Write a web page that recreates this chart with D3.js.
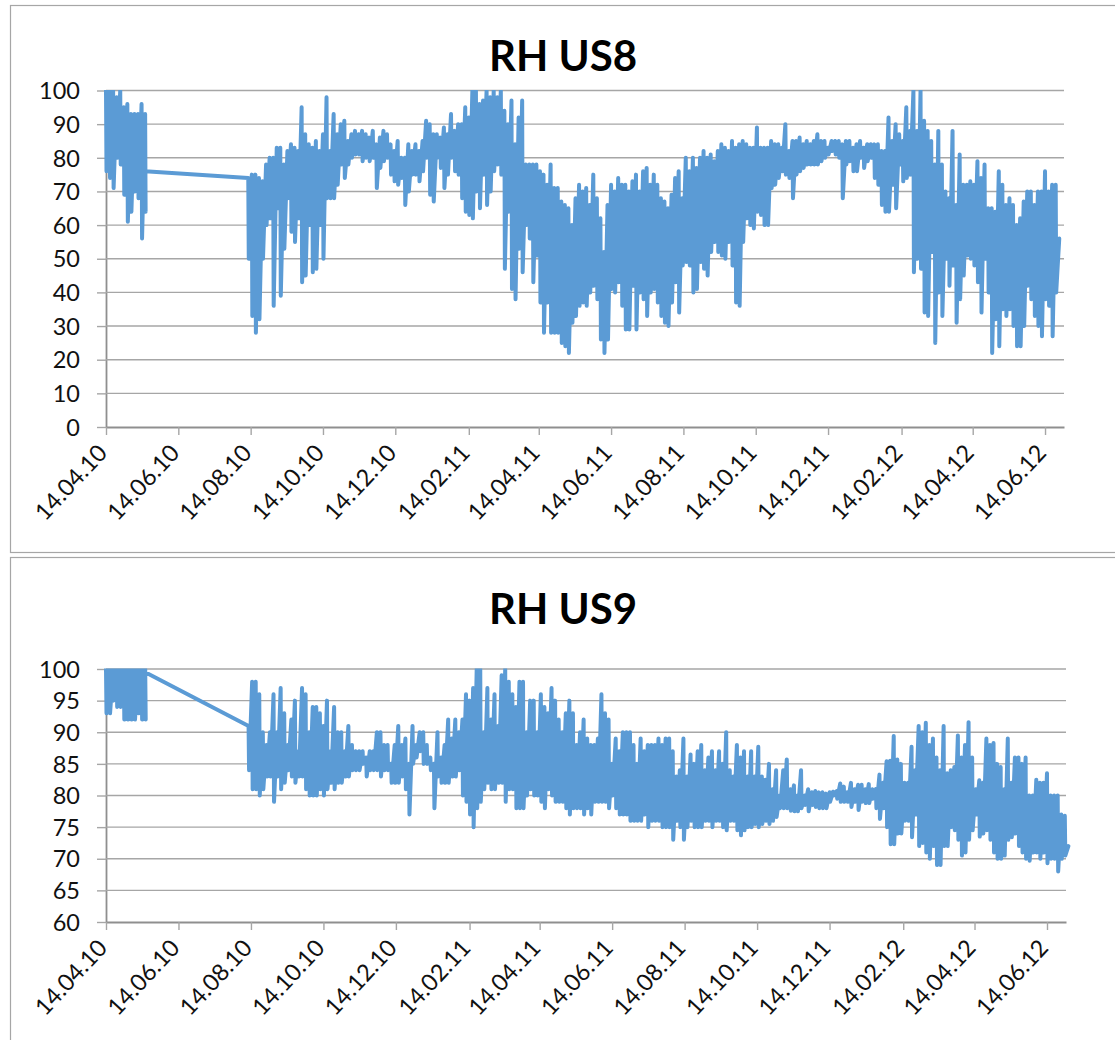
<!DOCTYPE html>
<html><head><meta charset="utf-8">
<script src="https://cdnjs.cloudflare.com/ajax/libs/d3/7.8.5/d3.min.js"></script>
<style>html,body{margin:0;padding:0;background:#fff;overflow:hidden}svg{display:block}text{font-family:Lato,"Noto Sans",sans-serif;fill:#111}</style>
</head><body><svg id="c" width="1115" height="1040"></svg>
<script>
const tickLabels=["14.04.10","14.06.10","14.08.10","14.10.10","14.12.10","14.02.11","14.04.11","14.06.11","14.08.11","14.10.11","14.12.11","14.02.12","14.04.12","14.06.12"];
const us8Ticks=[0,10,20,30,40,50,60,70,80,90,100];
const us9Ticks=[60,65,70,75,80,85,90,95,100];

// Spring 2010 block: high/low reached in each 3-day step
const us8EarlyHi=[100,100,100,98,100,95,96,93,93,93,96,93];
const us8EarlyLo=[76,74,71,80,78,69,61,64,70,68,56,64];
const us8EarlyEnd=76;
const us9EarlyHi=[100,100,100,100,100,100,100,100,100,100,100,100];
const us9EarlyLo=[93,93,95,94,94,92,92,92,92,93,92,92];
const us9EarlyEnd=99.5;

// From August 2010: high/low reached in each 3-day step
const us8Hi=[74,75,75,74,73,78,80,80,83,83,78,82,84,83,82,95,87,84,83,85,82,87,98,82,93,87,90,91,85,87,88,87,88,87,86,88,84,86,88,87,84,82,85,80,80,84,82,84,82,85,91,90,87,87,86,89,87,93,88,90,90,95,92,100,100,96,97,100,98,100,98,100,94,90,97,84,92,97,78,78,78,78,76,75,72,78,71,
71,67,66,65,60,68,72,70,71,66,75,68,62,52,66,72,70,74,72,72,70,73,75,70,76,77,72,75,72,68,67,65,69,74,76,68,80,76,80,77,80,82,80,81,79,82,84,83,82,85,83,84,85,84,83,83,89,83,83,83,85,84,84,83,90,82,85,85,86,84,85,84,85,87,85,85,83,85,85,85,84,85,85,83,84,85,83,84,84,84,84,82,82,92,85,90,87,85,95,88,100,88,100,91,88,85,78,88,78,70,68,88,66,81,72,72,73,72,79,74,78,65,65,64,76,72,66,68,66,60,62,67,70,70,66,70,70,76,70,72,72];
const us8Lo=[50,33,28,32,50,60,62,36,65,39,53,68,58,55,62,43,45,60,46,47,60,50,68,68,68,72,78,74,78,80,81,81,79,80,79,80,71,77,79,80,75,73,72,74,66,70,75,75,73,76,80,69,67,80,77,71,75,80,76,75,68,64,63,62,70,65,75,66,70,76,78,75,47,64,41,38,53,46,60,56,43,51,37,28,37,28,28,
28,25,24,22,31,33,36,37,36,40,42,38,26,22,26,41,40,43,36,29,29,42,29,40,38,33,40,41,37,33,31,30,37,43,34,48,49,48,40,41,49,47,45,52,55,52,51,50,55,48,37,36,55,62,60,59,64,63,60,60,71,72,74,76,75,74,68,75,76,77,78,78,78,78,79,80,81,82,81,80,68,78,79,76,76,80,77,79,80,74,72,66,64,64,72,65,78,73,74,75,46,50,47,34,33,52,25,40,33,50,42,48,31,38,45,51,50,48,43,34,50,40,22,32,24,35,33,35,30,24,24,30,42,38,33,30,27,38,36,27,40,45];
const us8End=56;

const us9Hi=[91,98,98,96,90,88,90,96,90,97,93,88,92,95,87,97,96,90,94,94,93,91,95,87,94,90,90,87,91,88,87,87,87,86,87,87,90,90,88,88,85,88,91,88,89,85,91,88,90,90,88,86,85,90,86,88,92,89,92,90,92,96,95,97,100,100,90,97,92,96,91,99,100,98,96,94,98,98,90,95,95,90,96,94,93,97,95,
92,90,93,95,93,88,90,92,89,88,88,89,96,93,92,85,89,87,90,90,90,88,85,89,87,88,88,88,89,88,89,89,87,83,84,89,83,86.5,85,87,88,84,86,87,84,87,85,90,84,83,88,86,87,83,87,83,87.7,83,82.5,85,81,84,80,84,85.7,81,81.6,80,84,80,81,80.5,80.7,80.5,80.5,80.3,80.5,80.6,80.7,81.9,81.4,80.5,82,81,81.7,81.7,81,81.8,81,81,83.3,82,85.4,85.5,89.4,85.7,85,82,82,87.7,84,91,90,91.5,88,89,86,84,91,83.5,84,84.5,89.5,86,88,91.6,86,81,82.4,82,89,88,88.3,85,84.5,81,89,82,86,86,85,86,80,80,82.5,82,82,83.5,80,80,80,77,76.8];
const us9Lo=[84,81,81,80,81,83,83,79,83,81,82,84,83,82,83,83,81,80,80,80,81,80,81,82,81,82,82,83,83,84,84,84,85,83,84,84,84,83,84,84,82,82,82,83,81,77,85,86,87,85,85,84,78,83,82,82,82,83,83,84,80,79,77,75,78,79,81,82,81,81,82,82,79,81,81,78,78,78,80,81,80,80,79,78,81,80,79,
79,79,78,77,78,78,78,77,78,77,79,79,79,79,78,80,78,77,77,77,76,76,76,76,77,75,76,76,76,75,75,75,73,76,75,73,75,76,75,75,75,76,76,75,76,76,75,74.5,76,76,74.5,73.7,74.5,75,75,75.5,75,75.5,76,75.5,76,76.6,78,78,78,77.6,77.5,77.5,78,78.5,77.5,78.5,78.2,78,78,78,79,80,79.5,79,79,79,78.2,79,77.7,79,78.8,78.8,79.5,78,76.3,78,75,72.3,72.3,74,74,76,76,73.4,77,72,72.5,71,70,72,69,69,72,72,75,74.5,73,70.5,71,73,74.5,77,73.5,74,74.5,73,71,70,70,70.5,73,73.4,74,72,71,70,69.7,71,71,70,71,69.3,70,70,68,70,70.5];
const us9End=72;

const parse=d3.timeParse("%d.%m.%y");
const tickDates=tickLabels.map(parse);
const startDate=parse("14.04.10"), endDate=parse("30.06.12");
const lateStart=parse("12.08.10");

function series(eHi,eLo,eEnd,hi,lo,end){
  const pts=[];
  eHi.forEach((v,i)=>{const d=d3.timeDay.offset(startDate,i*3);pts.push([d,v],[d3.timeHour.offset(d,10),eLo[i]]);});
  pts.push([d3.timeDay.offset(startDate,33),eEnd]);
  hi.forEach((v,i)=>{const d=d3.timeDay.offset(lateStart,i*3);pts.push([d,v],[d3.timeHour.offset(d,10),lo[i]]);});
  pts.push([d3.timeDay.offset(lateStart,hi.length*3),end]);
  return pts;
}

const svg=d3.select("#c");
const charts=[
 {id:"a",title:"RH US8",frame:[10.5,5.5,1120,547],titleY:71,x0:106,x1:1064,top:90.5,bottom:427,dom:[0,100],ticks:us8Ticks,pts:series(us8EarlyHi,us8EarlyLo,us8EarlyEnd,us8Hi,us8Lo,us8End)},
 {id:"b",title:"RH US9",frame:[10.5,557.5,1120,500],titleY:624,x0:106,x1:1066,top:669,bottom:922,dom:[60,100],ticks:us9Ticks,pts:series(us9EarlyHi,us9EarlyLo,us9EarlyEnd,us9Hi,us9Lo,us9End)}
];
charts.forEach(c=>{
  const g=svg.append("g");
  g.append("rect").attr("x",c.frame[0]).attr("y",c.frame[1]).attr("width",c.frame[2]).attr("height",c.frame[3]).attr("fill","#fff").attr("stroke","#a6a6a6").attr("stroke-width",1.2);
  g.append("text").attr("x",563).attr("y",c.titleY).attr("text-anchor","middle").attr("font-size",42).attr("font-weight",700).style("fill","#000").text(c.title);
  const x=d3.scaleTime().domain([startDate,endDate]).range([c.x0,c.x1]);
  const y=d3.scaleLinear().domain(c.dom).range([c.bottom,c.top]);
  const yA=g.append("g").attr("transform",`translate(${c.x0},0)`).call(d3.axisLeft(y).tickValues(c.ticks).tickSize(9).tickSizeOuter(0).tickPadding(17));
  yA.select(".domain").attr("stroke","#8f8f8f").attr("stroke-width",1.8);
  yA.selectAll("line").attr("stroke","#a6a6a6").attr("stroke-width",1.4);
  yA.selectAll("text").attr("font-size",23.5).attr("dy","0.35em");
  g.append("g").selectAll("line").data(c.ticks.slice().filter(t=>t!==c.dom[0])).join("line")
    .attr("x1",c.x0).attr("x2",c.x1).attr("y1",d=>y(d)).attr("y2",d=>y(d)).attr("stroke","#a6a6a6").attr("stroke-width",1.4);
  const xA=g.append("g").attr("transform",`translate(0,${c.bottom})`).call(d3.axisBottom(x).tickValues(tickDates).tickSize(8).tickSizeOuter(0).tickFormat((d,i)=>tickLabels[i]));
  xA.select(".domain").attr("stroke","#8f8f8f").attr("stroke-width",1.8);
  xA.selectAll("line").attr("stroke","#a6a6a6").attr("stroke-width",1.4);
  xA.selectAll("text").attr("font-size",23.5).attr("text-anchor","end").attr("dy",0).attr("y",0).attr("transform","translate(2,27) rotate(-47)");
  svg.append("clipPath").attr("id","clip-"+c.id).append("rect").attr("x",0).attr("y",c.top-0.5).attr("width",1115).attr("height",c.bottom-c.top+5);
  g.append("path").datum(c.pts).attr("clip-path",`url(#clip-${c.id})`).attr("fill","none").attr("stroke","#5b9bd5").attr("stroke-width",4).attr("stroke-linejoin","round").attr("stroke-linecap","round")
    .attr("d",d3.line().x(d=>x(d[0])).y(d=>y(d[1])));
});
</script></body></html>
